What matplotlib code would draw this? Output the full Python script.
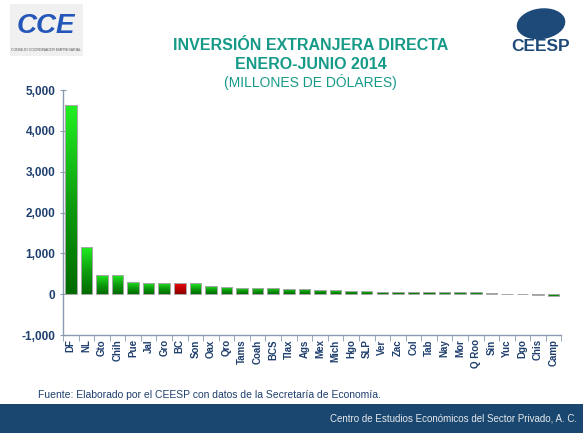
import numpy as np
import matplotlib
matplotlib.use("Agg")
import matplotlib.pyplot as plt
from matplotlib.colors import LinearSegmentedColormap
from matplotlib.patches import Rectangle, Ellipse
from matplotlib.ticker import FuncFormatter, FixedLocator

plt.rcParams['font.family'] = ['Liberation Sans', 'DejaVu Sans']

estados = ["DF", "NL", "Gto", "Chih", "Pue", "Jal", "Gro", "BC", "Son", "Oax", "Qro",
           "Tams", "Coah", "BCS", "Tlax", "Ags", "Mex", "Mich", "Hgo", "SLP", "Ver",
           "Zac", "Col", "Tab", "Nay", "Mor", "Q Roo", "Sin", "Yuc", "Dgo", "Chis", "Camp"]
valores = [4630, 1160, 480, 478, 310, 287, 280, 270, 265, 196, 190,
           164, 155, 152, 130, 125, 98, 95, 75, 70, 62,
           60, 58, 50, 48, 46, 45, 35, 15, 0, -25, -45]
resaltado = "BC"
y_ticks = [-1000, 0, 1000, 2000, 3000, 4000, 5000]

navy = "#1f3f6e"
teal = "#169a88"

fig = plt.figure(figsize=(5.83, 4.33), dpi=100)
ax = fig.add_axes([0.108, 0.226, 0.855, 0.566])

x = np.arange(len(estados))
bars = ax.bar(x, valores, width=0.74, color="none", edgecolor="#a8a8a8", linewidth=0.7, zorder=3)

green_cmap = LinearSegmentedColormap.from_list("g", ["#006b00", "#0fa00f", "#22f022"])
red_cmap = LinearSegmentedColormap.from_list("r", ["#8a0000", "#c40000", "#f01010"])
grad = np.linspace(0, 1, 64).reshape(-1, 1)
for name, patch, v in zip(estados, bars, valores):
    if v == 0:
        continue
    bx, by = patch.get_x(), patch.get_y()
    w, h = patch.get_width(), patch.get_height()
    y0, y1 = min(by, by + h), max(by, by + h)
    cmap = red_cmap if name == resaltado else green_cmap
    im = ax.imshow(grad, extent=[bx, bx + w, y0, y1], origin="lower", aspect="auto",
                   cmap=cmap, zorder=2, interpolation="bilinear")
    im.set_clip_path(patch)

ax.set_xlim(-0.5, len(estados) - 0.5)
ax.set_ylim(-1000, 5000)
ax.set_yticks(y_ticks)
ax.yaxis.set_major_formatter(FuncFormatter(lambda v, p: f"{int(v):,}"))
ax.set_xticks(x)
ax.set_xticklabels(estados, rotation=90, fontsize=7, fontweight="bold", color=navy)
ax.xaxis.set_minor_locator(FixedLocator(np.arange(-0.5, len(estados), 1)))
ax.tick_params(axis="x", which="major", length=0, pad=3)
ax.tick_params(axis="x", which="minor", length=4, color="#8a9ab0", direction="out")
ax.tick_params(axis="y", length=4, color="#8a9ab0", direction="inout", labelsize=8.5,
               labelcolor=navy)
for lab in ax.get_yticklabels():
    lab.set_fontweight("bold")
for s in ["top", "right"]:
    ax.spines[s].set_visible(False)
for s in ["left", "bottom"]:
    ax.spines[s].set_color("#8a9ab0")
    ax.spines[s].set_linewidth(1.0)

# Title
fig.text(0.533, 0.895, "INVERSIÓN EXTRANJERA DIRECTA", ha="center", va="center",
         fontsize=11.5, fontweight="bold", color=teal)
fig.text(0.533, 0.852, "ENERO-JUNIO 2014", ha="center", va="center",
         fontsize=11.5, fontweight="bold", color=teal)
fig.text(0.533, 0.810, "(MILLONES DE DÓLARES)", ha="center", va="center",
         fontsize=10, color=teal)

# Source
fig.text(0.065, 0.088, "Fuente: Elaborado por el CEESP con datos de la Secretaría de Economía.",
         ha="left", va="center", fontsize=7.5, color=navy)

# Footer band
fig.patches.append(Rectangle((0, 0), 1, 0.068, transform=fig.transFigure,
                             facecolor="#1a476f", edgecolor="none", zorder=0))
fig.text(0.99, 0.034, "Centro de Estudios Económicos del Sector Privado, A. C.",
         ha="right", va="center", fontsize=7, color="#e6e9ee")

# CCE logo (approximation)
fig.patches.append(Rectangle((0.017, 0.87), 0.125, 0.12, transform=fig.transFigure,
                             facecolor="#f0f0f0", edgecolor="none"))
fig.text(0.079, 0.94, "CCE", ha="center", va="center", fontsize=20, fontweight="bold",
         fontstyle="italic", color="#2356b8")
fig.text(0.079, 0.885, "CONSEJO COORDINADOR EMPRESARIAL", ha="center", va="center",
         fontsize=2.5, color="#555555")

# CEESP logo (approximation)
fig.patches.append(Ellipse((0.928, 0.945), 0.085, 0.07, angle=20, transform=fig.transFigure,
                           facecolor="#1d4a78", edgecolor="none"))
fig.text(0.928, 0.893, "CEESP", ha="center", va="center", fontsize=12.5,
         fontweight="bold", color="#1d4a78")

fig.savefig("out.png", dpi=100)
